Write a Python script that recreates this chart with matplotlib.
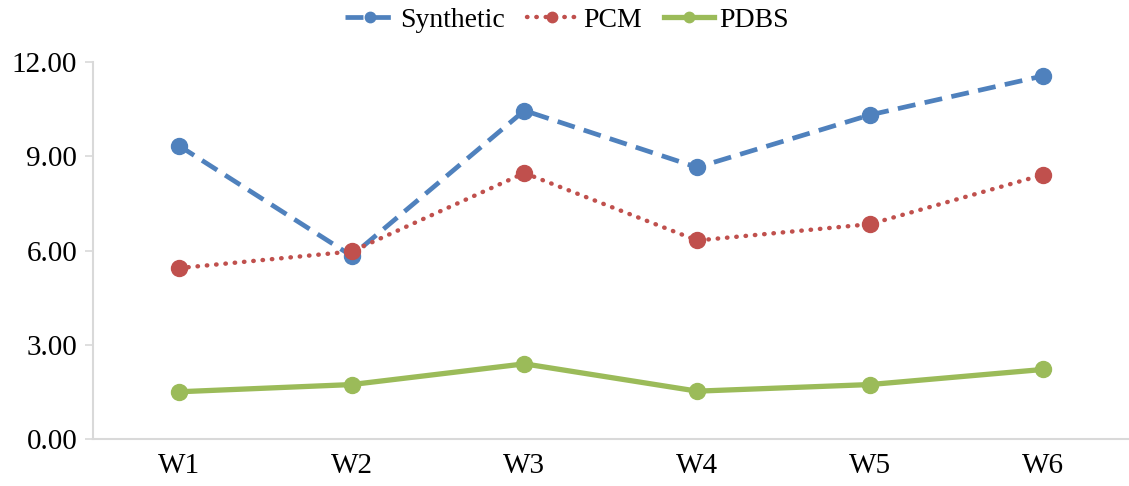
import matplotlib
matplotlib.use("Agg")
import matplotlib.pyplot as plt
from matplotlib.ticker import FormatStrFormatter

# values
weeks = ["W1", "W2", "W3", "W4", "W5", "W6"]
synthetic = [9.34, 5.83, 10.46, 8.65, 10.32, 11.56]
pcm = [5.44, 5.97, 8.47, 6.32, 6.84, 8.41]
pdbs = [1.50, 1.73, 2.39, 1.52, 1.73, 2.21]
yticks = [0, 3, 6, 9, 12]

plt.rcParams['font.family'] = ['Liberation Serif', 'DejaVu Serif']

fig = plt.figure(figsize=(11.29, 4.86), dpi=100)
ax = fig.add_axes([0.082, 0.097, 0.918, 0.775])

x = list(range(len(weeks)))
ax.plot(x, synthetic, color="#4F81BD", lw=3.4, dashes=(3.8, 2.0),
        marker="o", ms=11.5, label="Synthetic")
ax.plot(x, pcm, color="#C0504D", lw=3.2, linestyle=(0, (0.1, 2.0)),
        dash_capstyle="round", marker="o", ms=11.5, label="PCM")
ax.plot(x, pdbs, color="#9BBB59", lw=3.8, marker="o", ms=11.5, label="PDBS")

ax.set_xlim(-0.5, len(weeks) - 0.5)
ax.set_ylim(0, 12)
ax.set_xticks(x)
ax.set_xticklabels(weeks)
ax.set_yticks(yticks)
ax.yaxis.set_major_formatter(FormatStrFormatter("%.2f"))

for s in ["top", "right"]:
    ax.spines[s].set_visible(False)
for s in ["left", "bottom"]:
    ax.spines[s].set_color("#D9D9D9")
    ax.spines[s].set_linewidth(1.5)
ax.tick_params(axis="y", length=6, width=1.2, color="#D9D9D9", labelsize=21, pad=5)
ax.tick_params(axis="x", length=0, labelsize=21, pad=10)

fig.legend(*ax.get_legend_handles_labels(), loc="center", bbox_to_anchor=(0.502, 0.958),
           ncol=3, frameon=False, fontsize=20, handlelength=1.8, handletextpad=0.2,
           columnspacing=0.8, markerscale=0.65, borderpad=0)

fig.savefig("out.png", dpi=100)
